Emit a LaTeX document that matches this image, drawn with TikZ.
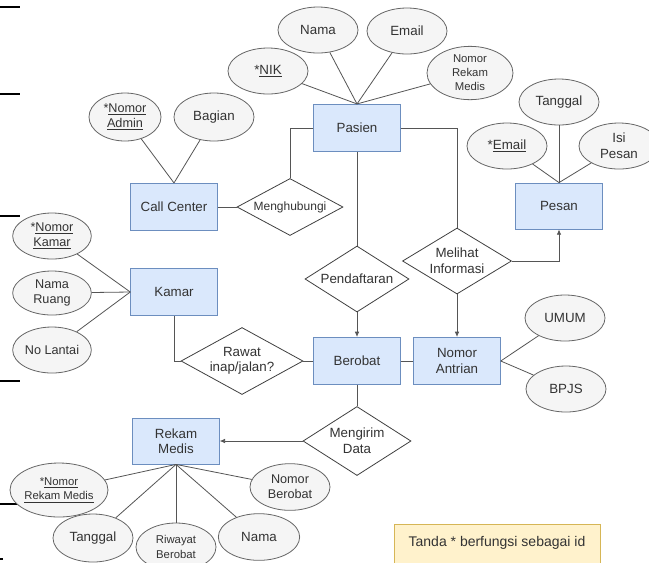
\documentclass[tikz,border=0pt]{standalone}
\usepackage{fontspec}
\setmainfont{Liberation Sans}
\usepackage{xcolor}
\usetikzlibrary{shapes.geometric,arrows.meta}

\definecolor{entfill}{HTML}{DAE8FC}
\definecolor{entline}{HTML}{6C8EBF}
\definecolor{attfill}{HTML}{F5F5F5}
\definecolor{attline}{HTML}{666666}
\definecolor{notefill}{HTML}{FFF2CC}
\definecolor{noteline}{HTML}{D6B656}
\definecolor{txt}{HTML}{333333}
\definecolor{wire}{HTML}{555555}

\newcommand{\fs}[2]{\fontsize{#1}{#2}\selectfont}

\tikzset{
  entity/.style={draw=entline, fill=entfill, line width=0.6pt, minimum width=65pt, minimum height=35.5pt, inner sep=1pt, align=center, text=txt, font=\fs{10}{12}},
  attrib/.style={ellipse, draw=attline, fill=attfill, line width=0.6pt, minimum width=60pt, minimum height=34.5pt, inner sep=0pt, align=center, text=txt, font=\fs{10}{12}},
  relation/.style={diamond, draw=black!75, fill=white, line width=0.6pt, inner sep=0pt, align=center, text=txt, font=\fs{10}{12}},
  link/.style={draw=wire, line width=0.6pt},
  >={Latex[length=4pt,width=3.5pt]}
}

\begin{document}
\begin{tikzpicture}[x=0.75pt,y=-0.75pt]
    \clip (0,0) rectangle (649,562);
    \fill[white] (0,0) rectangle (649,562);

    % Marks on the left edge
    \foreach \y in {7,94,216,381,504}
        \draw[black,line width=1.1pt] (0,\y) -- (20,\y);
    \draw[black,line width=1pt] (0,559) -- (3,559);

    % Entities
    \node[entity] (pasien) at (357,128) {Pasien};
    \node[entity] (callc) at (174,207) {Call Center};
    \node[entity, minimum height=34.5pt] (pesan) at (559,206) {Pesan};
    \node[entity] (kamar) at (174,292) {Kamar};
    \node[entity] (berobat) at (357,361) {Berobat};
    \node[entity, font=\fs{10}{11.5}] (antrian) at (457,361) {Nomor\\Antrian};
    \node[entity, minimum height=34.5pt, font=\fs{10}{11.5}] (rekam) at (176,441) {Rekam\\Medis};

    % Relations
    \node[relation, minimum width=79.5pt, minimum height=42.75pt, aspect=1.8, font=\fs{9}{11}] (hubungi) at (290,207) {Menghubungi};
    \node[relation, minimum width=78pt, minimum height=49.5pt, aspect=1.6] (daftar) at (357,279) {Pendaftaran};
    \node[relation, minimum width=81.75pt, minimum height=49.5pt, aspect=1.65, font=\fs{10}{12}] (info) at (457,261) {Melihat\\Informasi};
    \node[relation, minimum width=91.5pt, minimum height=50.25pt, aspect=1.8, font=\fs{10}{11.5}] (rawat) at (242,361) {Rawat\\inap/jalan?};
    \node[relation, minimum width=81pt, minimum height=51.75pt, aspect=1.56, font=\fs{10}{12}] (kirim) at (357,441) {Mengirim\\Data};

    % Attributes of Pasien
    \node[attrib] (nik) at (268,71) {*\underline{NIK}};
    \node[attrib] (pnama) at (318,30) {Nama};
    \node[attrib] (pemail) at (407,31) {Email};
    \node[attrib, minimum width=64.5pt, minimum height=40pt, font=\fs{8.5}{10.5}] (pnrm) at (470,73) {Nomor\\Rekam\\Medis};

    % Attributes of Call Center
    \node[attrib, minimum width=54pt, minimum height=36pt, font=\fs{9.5}{11.5}] (admin) at (125,117) {*\underline{Nomor}\\\underline{Admin}};
    \node[attrib, minimum height=36pt] (bagian) at (214,117) {Bagian};

    % Attributes of Pesan
    \node[attrib] (tgl) at (559,102) {Tanggal};
    \node[attrib] (email) at (507,146) {*\underline{Email}};
    \node[attrib, font=\fs{10}{12}] (isi) at (619,146) {Isi\\Pesan};

    % Attributes of Kamar
    \node[attrib, minimum width=59pt, font=\fs{9.5}{11}] (nkamar) at (52,236) {*\underline{Nomor}\\\underline{Kamar}};
    \node[attrib, minimum width=59pt, minimum height=33pt, font=\fs{9.5}{11}] (ruang) at (52,293) {Nama\\Ruang};
    \node[attrib, minimum width=59pt, font=\fs{9.5}{11}] (lantai) at (52,350) {No Lantai};

    % Attributes of Nomor Antrian
    \node[attrib] (umum) at (565,318) {UMUM};
    \node[attrib] (bpjs) at (566,389) {BPJS};

    % Attributes of Rekam Medis
    \node[attrib, minimum width=66pt, minimum height=40.5pt, font=\fs{8.5}{11}] (nrm) at (59,490) {*\underline{Nomor}\\\underline{Rekam Medis}};
    \node[attrib, minimum height=36pt] (rtgl) at (93,538) {Tanggal};
    \node[attrib, minimum height=36pt, font=\fs{8.5}{11}] (riwayat) at (176,547) {Riwayat\\Berobat};
    \node[attrib, minimum width=61pt, minimum height=35pt] (rnama) at (259,537) {Nama};
    \node[attrib, minimum height=35pt, font=\fs{9.5}{11.5}] (nberobat) at (290,487) {Nomor\\Berobat};

    % Note
    \node[draw=noteline, fill=notefill, line width=0.6pt, minimum width=154.5pt, minimum height=31.5pt, text=txt, font=\fs{10.5}{12}] (note) at (497,545) {};
    \node[text=txt, font=\fs{10.5}{12}] (notetext) at (497,543) {Tanda * berfungsi sebagai id};

    % Attribute links
    \foreach \a in {nik,pnama,pemail,pnrm} \draw[link] (\a) -- (pasien.north);
    \foreach \a in {admin,bagian} \draw[link] (\a) -- (callc.north);
    \foreach \a in {tgl,email,isi} \draw[link] (\a) -- (pesan.north);
    \foreach \a in {nkamar,ruang,lantai} \draw[link] (\a) -- (kamar.west);
    \foreach \a in {umum,bpjs} \draw[link] (\a) -- (antrian.east);
    \foreach \a in {nrm,rtgl,riwayat,rnama,nberobat} \draw[link] (\a) -- (rekam.south);

    % Relation links
    \draw[link] (pasien.west) -| (hubungi.north);
    \draw[link] (callc.east) -- (hubungi.west);
    \draw[link] (pasien.south) -- (daftar.north);
    \draw[link,->] (daftar.south) -- (berobat.north);
    \draw[link] (pasien.east) -| (info.north);
    \draw[link,->] (info.south) -- (antrian.north);
    \draw[link,->] (info.east) -| (pesan.south);
    \draw[link] (berobat.east) -- (antrian.west);
    \draw[link] (kamar.south) |- (rawat.west);
    \draw[link] (rawat.east) -- (berobat.west);
    \draw[link] (berobat.south) -- (kirim.north);
    \draw[link,->] (kirim.west) -- (rekam.east);
\end{tikzpicture}
\end{document}
